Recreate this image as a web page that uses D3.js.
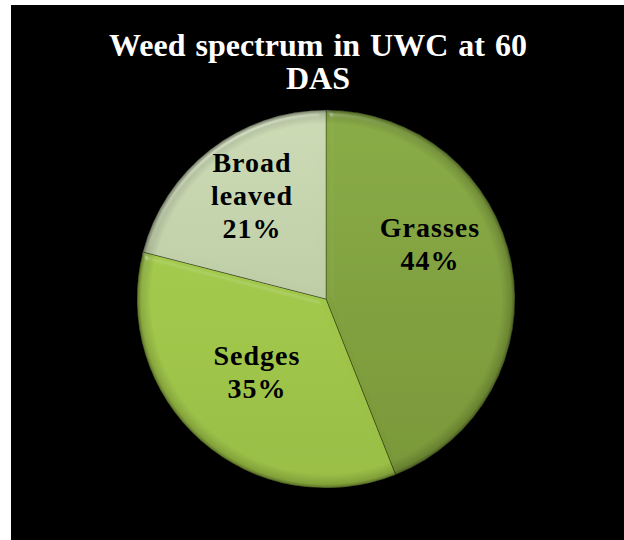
<!DOCTYPE html>
<html>
<head>
<meta charset="utf-8">
<script src="https://cdn.jsdelivr.net/npm/d3@7"></script>
<style>
  html, body { margin: 0; padding: 0; background: #ffffff; }
  svg { display: block; }
</style>
</head>
<body>
<div id="chart"></div>
<script>
// Weed spectrum shares (per cent)
const categories = ["Grasses", "Sedges", "Broad leaved"];
const values = [44, 35, 21];
const labelLines = [["Grasses", "44%"], ["Sedges", "35%"], ["Broad", "leaved", "21%"]];
const titleLines = ["Weed spectrum in UWC at 60", "DAS"];

// slice colours: [light top, darker bottom]
const sliceColors = {
  "Grasses": ["#89ab44", "#789636"],
  "Sedges": ["#aad04f", "#98bd43"],
  "Broad leaved": ["#ccdbb5", "#afbf97"]
};

const W = 624, H = 540;
const svg = d3.select("#chart").append("svg")
  .attr("width", W).attr("height", H);

// black chart area
svg.append("rect")
  .attr("x", 11).attr("y", 5)
  .attr("width", W - 11).attr("height", H - 5)
  .attr("fill", "#000");

const defs = svg.append("defs");

// bevel lighting for the slices
const bevel = defs.append("filter").attr("id", "bevel")
  .attr("x", "-5%").attr("y", "-5%").attr("width", "110%").attr("height", "110%");
bevel.append("feGaussianBlur").attr("in", "SourceAlpha").attr("stdDeviation", 3).attr("result", "blur");
const spec = bevel.append("feSpecularLighting")
  .attr("in", "blur").attr("surfaceScale", 4).attr("specularConstant", 0.7)
  .attr("specularExponent", 40).attr("lighting-color", "#ffffff").attr("result", "spec");
spec.append("feDistantLight").attr("azimuth", 240).attr("elevation", 40);
bevel.append("feComposite").attr("in", "spec").attr("in2", "SourceAlpha")
  .attr("operator", "in").attr("result", "specOut");
bevel.append("feComposite").attr("in", "SourceGraphic").attr("in2", "specOut")
  .attr("operator", "arithmetic").attr("k1", 0).attr("k2", 1).attr("k3", 0.45).attr("k4", 0);

categories.forEach((c, i) => {
  const g = defs.append("linearGradient").attr("id", "grad" + i)
    .attr("gradientUnits", "userSpaceOnUse")
    .attr("x1", 0).attr("y1", -190).attr("x2", 0).attr("y2", 190);
  g.append("stop").attr("offset", "0%").attr("stop-color", sliceColors[c][0]);
  g.append("stop").attr("offset", "100%").attr("stop-color", sliceColors[c][1]);
});

// dark rim shading
const rim = defs.append("radialGradient").attr("id", "rim")
  .attr("gradientUnits", "userSpaceOnUse")
  .attr("cx", 0).attr("cy", 0).attr("r", 190);
rim.append("stop").attr("offset", "92%").attr("stop-color", "#000").attr("stop-opacity", 0);
rim.append("stop").attr("offset", "97.5%").attr("stop-color", "#000").attr("stop-opacity", 0.15);
rim.append("stop").attr("offset", "100%").attr("stop-color", "#000").attr("stop-opacity", 0.5);

const cx = 326, cy = 299, R = 189;
const g = svg.append("g").attr("transform", `translate(${cx},${cy})`);

const pie = d3.pie().sort(null).value(d => d.value)
  .startAngle(0).endAngle(2 * Math.PI);
const data = categories.map((c, i) => ({ name: c, value: values[i], lines: labelLines[i] }));
const arcs = pie(data);
const arc = d3.arc().innerRadius(0).outerRadius(R);

g.selectAll("path.slice").data(arcs).enter().append("path")
  .attr("class", "slice")
  .attr("d", arc)
  .attr("fill", (d, i) => `url(#grad${i})`)
  .attr("stroke", "rgba(0,0,0,0.3)")
  .attr("stroke-width", 1)
  .attr("filter", "url(#bevel)");

g.append("circle").attr("r", R).attr("fill", "url(#rim)").attr("pointer-events", "none");

// slice labels
const labelPos = {
  "Grasses": [104, -62],
  "Sedges": [-69, 66],
  "Broad leaved": [-74, -127]
};
const lineH = 33;
g.selectAll("text.lbl").data(arcs).enter().append("text")
  .attr("class", "lbl")
  .attr("text-anchor", "middle")
  .attr("font-family", "'Liberation Serif', 'Times New Roman', serif")
  .attr("font-weight", "bold")
  .attr("font-size", 28)
  .attr("letter-spacing", 1)
  .attr("fill", "#000")
  .each(function(d) {
    const p = labelPos[d.data.name];
    const t = d3.select(this);
    d.data.lines.forEach((ln, k) => {
      t.append("tspan").attr("x", p[0]).attr("y", p[1] + k * lineH).text(ln);
    });
  });

// title
svg.append("text")
  .attr("text-anchor", "middle")
  .attr("font-family", "'Liberation Serif', 'Times New Roman', serif")
  .attr("font-weight", "bold")
  .attr("font-size", 32)
  .attr("word-spacing", 2)
  .attr("fill", "#fff")
  .selectAll("tspan").data(titleLines).enter().append("tspan")
  .attr("x", 318).attr("y", (d, i) => 56 + i * 33)
  .text(d => d);
</script>
</body>
</html>
